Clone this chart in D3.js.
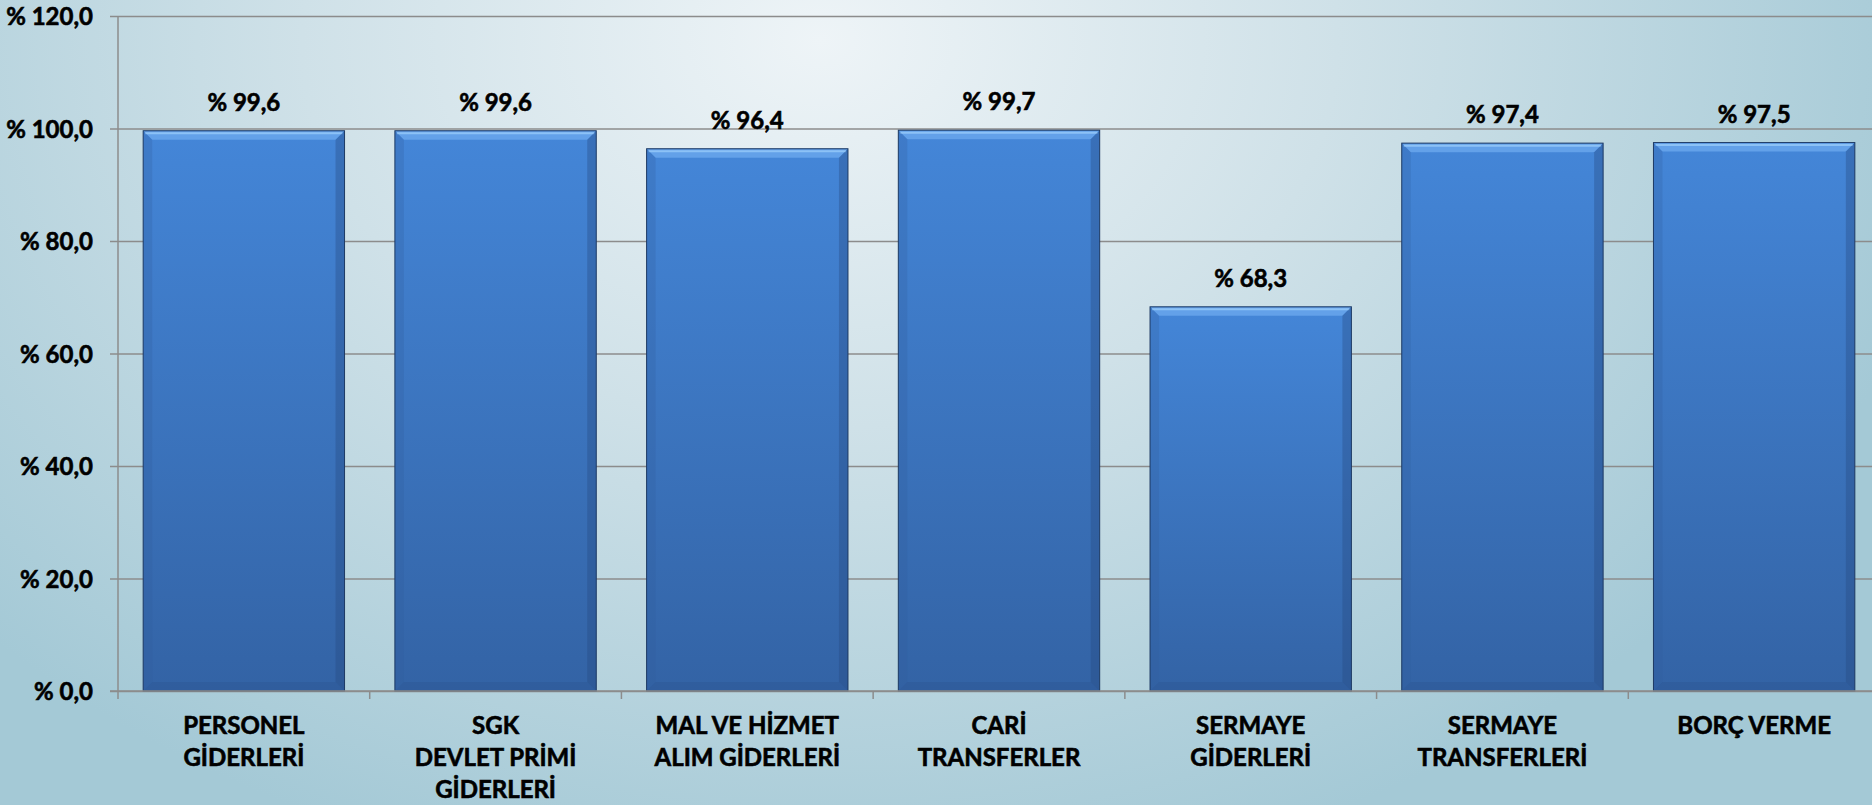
<!DOCTYPE html>
<html>
<head>
<meta charset="utf-8">
<script src="https://cdn.jsdelivr.net/npm/d3@7"></script>
<style>
  html, body { margin: 0; padding: 0; overflow: hidden; }
  body { width: 1872px; height: 805px; }
  #viz { width: 1872px; height: 805px; }
  text { font-family: Lato, "Open Sans", sans-serif; font-weight: bold; fill: #000; stroke: #000; stroke-width: 0.6px; }
</style>
</head>
<body>
<div id="viz"></div>
<script>
//Datos
const categories = [
    'PERSONEL\nGİDERLERİ',
    'SGK\nDEVLET PRİMİ\nGİDERLERİ',
    'MAL VE HİZMET\nALIM GİDERLERİ',
    'CARİ\nTRANSFERLER',
    'SERMAYE\nGİDERLERİ',
    'SERMAYE\nTRANSFERLERİ',
    'BORÇ VERME'
];
const values = [99.6, 99.6, 96.4, 99.7, 68.3, 97.4, 97.5];
const yTicks = [0, 20, 40, 60, 80, 100, 120];

const fmt = v => '% ' + d3.format('.1f')(v).replace('.', ',');

let W = 1872, H = 805;
let margin = {top: 16, right: -8, bottom: 114, left: 118},
    width = W - margin.left - margin.right,
    height = H - margin.top - margin.bottom;

let root = d3.select('#viz').append('svg')
    .attr('width', W)
    .attr('height', H);

//Fondo degradado
let defs = root.append('defs');
let bg = defs.append('radialGradient')
    .attr('id', 'bg')
    .attr('gradientUnits', 'userSpaceOnUse')
    .attr('cx', 820).attr('cy', 40).attr('r', 1150)
    .attr('gradientTransform', 'translate(820,40) scale(1,0.75) translate(-820,-40)');
bg.append('stop').attr('offset', '0%').attr('stop-color', '#eef4f7');
bg.append('stop').attr('offset', '45%').attr('stop-color', '#cfe1e8');
bg.append('stop').attr('offset', '100%').attr('stop-color', '#a4c9d6');
root.append('rect').attr('width', W).attr('height', H).attr('fill', 'url(#bg)');

//Degradado de barras
let barGrad = defs.append('linearGradient').attr('id', 'barGrad')
    .attr('x1', 0).attr('y1', 0).attr('x2', 0).attr('y2', 1);
barGrad.append('stop').attr('offset', '0%').attr('stop-color', '#4486d8');
barGrad.append('stop').attr('offset', '100%').attr('stop-color', '#3363a5');

let svg = root.append('g')
    .attr('transform', 'translate(' + margin.left + ',' + margin.top + ')');

// Escalas
let x = d3.scaleBand()
    .domain(categories)
    .range([0, width])
    .paddingInner(0.2)
    .paddingOuter(0.1);

let y = d3.scaleLinear()
    .domain([0, 120])
    .range([height, 0]);

// Eje Y + rejilla
let yAxis = svg.append('g')
    .call(d3.axisLeft(y).tickValues(yTicks).tickSize(-width).tickSizeOuter(0).tickFormat(fmt));
yAxis.select('.domain').remove();
yAxis.selectAll('.tick line')
    .attr('x1', -8)
    .attr('stroke', '#8c8c8c')
    .attr('stroke-width', 1.5);
yAxis.selectAll('.tick text')
    .attr('x', -25)
    .attr('dy', '0.36em')
    .style('font-size', '24px')
    .style('font-family', 'Lato, sans-serif')
    .style('font-weight', 'bold')
    .attr('fill', '#000');

// Línea vertical del eje
svg.append('line')
    .attr('x1', 0).attr('x2', 0)
    .attr('y1', y(120)).attr('y2', y(0))
    .attr('stroke', '#8c8c8c').attr('stroke-width', 1.5);

// Barras con bisel
const bev = 9;
let bars = svg.selectAll('.bar')
    .data(values)
    .enter()
    .append('g')
    .attr('class', 'bar')
    .attr('transform', (d, i) => 'translate(' + x(categories[i]) + ',' + y(d) + ')');

bars.each(function(d, i) {
    let g = d3.select(this);
    let bw = x.bandwidth(), bh = y(0) - y(d);
    g.append('rect').attr('width', bw).attr('height', bh).attr('fill', 'url(#barGrad)');
    // arriba
    g.append('path')
        .attr('d', 'M0,0 L' + bw + ',0 L' + (bw - bev) + ',' + bev + ' L' + bev + ',' + bev + 'Z')
        .attr('fill', '#69a6ec').attr('opacity', 0.85);
    g.append('line').attr('x1', 2).attr('x2', bw - 2).attr('y1', 2.5).attr('y2', 2.5)
        .attr('stroke', '#8cc2f6').attr('stroke-width', 2);
    // izquierda
    g.append('path')
        .attr('d', 'M0,0 L' + bev + ',' + bev + ' L' + bev + ',' + (bh - bev) + ' L0,' + bh + 'Z')
        .attr('fill', '#2f5d9a').attr('opacity', 0.25);
    // derecha
    g.append('path')
        .attr('d', 'M' + bw + ',0 L' + (bw - bev) + ',' + bev + ' L' + (bw - bev) + ',' + (bh - bev) + ' L' + bw + ',' + bh + 'Z')
        .attr('fill', '#24497d').attr('opacity', 0.35);
    // abajo
    g.append('path')
        .attr('d', 'M0,' + bh + ' L' + bev + ',' + (bh - bev) + ' L' + (bw - bev) + ',' + (bh - bev) + ' L' + bw + ',' + bh + 'Z')
        .attr('fill', '#2a5290').attr('opacity', 0.35);
    g.append('rect').attr('width', bw).attr('height', bh)
        .attr('fill', 'none').attr('stroke', '#1e3a63').attr('stroke-width', 1);
});

// Etiquetas de valor
svg.selectAll('.val')
    .data(values)
    .enter()
    .append('text')
    .attr('class', 'val')
    .attr('x', (d, i) => x(categories[i]) + x.bandwidth() / 2)
    .attr('y', d => y(d) - 20)
    .attr('text-anchor', 'middle')
    .style('font-size', '24px')
    .text(d => fmt(d));

// Eje X
let xAxis = svg.append('g')
    .attr('transform', 'translate(0,' + height + ')');
xAxis.append('line')
    .attr('x1', -8).attr('x2', width)
    .attr('stroke', '#8c8c8c').attr('stroke-width', 1.5);
xAxis.selectAll('.xtick')
    .data(d3.range(categories.length + 1))
    .enter()
    .append('line')
    .attr('x1', i => x.step() * i).attr('x2', i => x.step() * i)
    .attr('y1', 0).attr('y2', 8)
    .attr('stroke', '#8c8c8c').attr('stroke-width', 1.5);

let labels = xAxis.selectAll('.xlab')
    .data(categories)
    .enter()
    .append('text')
    .attr('class', 'xlab')
    .attr('text-anchor', 'middle')
    .attr('transform', d => 'translate(' + (x(d) + x.bandwidth() / 2) + ',43)')
    .style('font-size', '24px');
labels.selectAll('tspan')
    .data(d => d.split('\n'))
    .enter()
    .append('tspan')
    .attr('x', 0)
    .attr('dy', (d, i) => i === 0 ? 0 : 32)
    .text(d => d);
</script>
</body>
</html>
